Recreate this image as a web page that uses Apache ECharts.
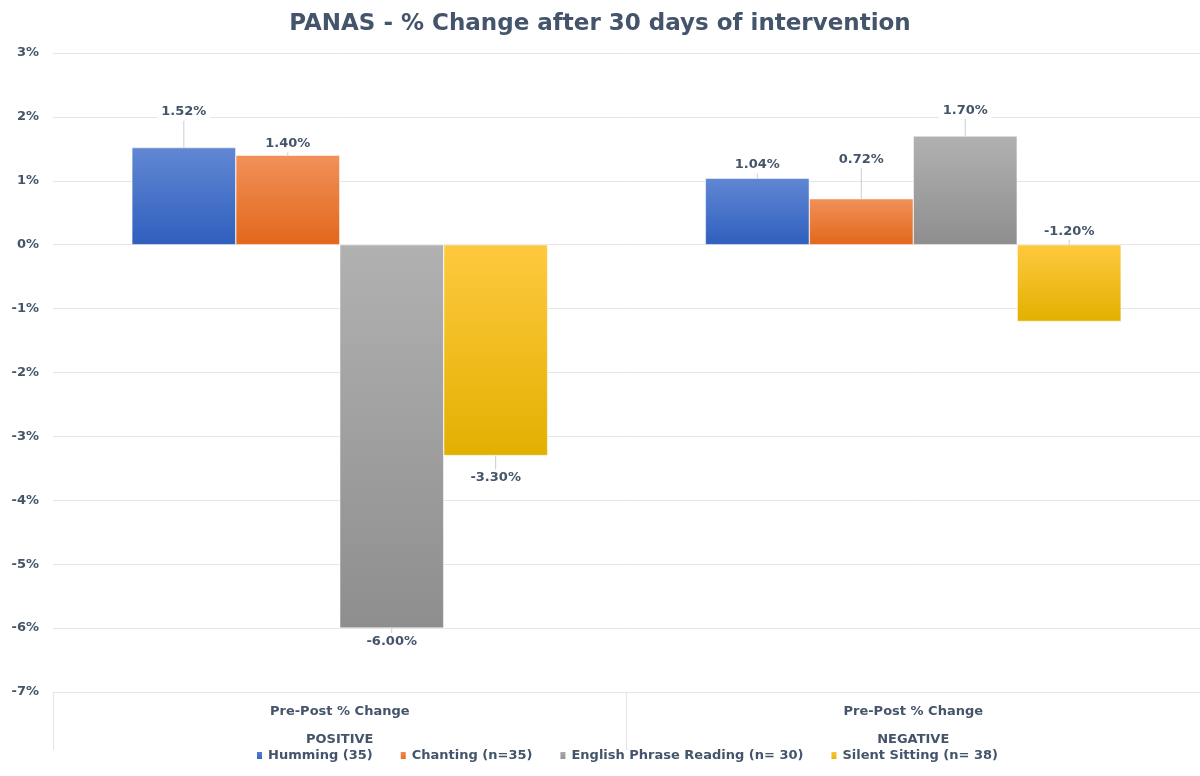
<!DOCTYPE html>
<html>
<head>
<meta charset="utf-8">
<script src="https://cdn.jsdelivr.net/npm/echarts@6/dist/echarts.min.js"></script>
<style>
  html, body { margin: 0; padding: 0; background: #fff; }
  #main { width: 1200px; height: 776px; }
</style>
</head>
<body>
<div id="main"></div>
<script>
// chart data
var groups = ['POSITIVE', 'NEGATIVE'];
var groupTop = ['Pre-Post % Change', 'Pre-Post % Change'];
var seriesNames = ['Humming (35)', 'Chanting (n=35)', 'English Phrase Reading (n= 30)', 'Silent Sitting (n= 38)'];
var humming = [1.52, 1.04];
var chanting = [1.40, 0.72];
var english = [-6.00, 1.70];
var silent = [-3.30, -1.20];
var yTicks = [-7, -6, -5, -4, -3, -2, -1, 0, 1, 2, 3];

var txt = '#44546a';
var font = 'DejaVu Sans';
var fills = [
  ['#6187d3', '#2f5fbd'],
  ['#f19159', '#e2671b'],
  ['#b1b1b1', '#8e8e8e'],
  ['#ffc93f', '#e2b000']
];
// label nudges (px), per series / group
var labelDy = [[-22, 0], [2, -26], [0, -12], [9, 0]];

var myChart = echarts.init(document.getElementById('main'));
var values = [humming, chanting, english, silent];

myChart.setOption({
  animation: false,
  title: {
    text: 'PANAS - % Change after 30 days of intervention',
    left: 'center',
    top: 8,
    textStyle: { color: txt, fontSize: 23, fontWeight: 'bold', fontFamily: font }
  },
  legend: {
    bottom: 9,
    left: 250,
    itemWidth: 7,
    itemHeight: 9,
    itemGap: 26,
    icon: 'rect',
    textStyle: { color: txt, fontSize: 13, fontWeight: 'bold', fontFamily: font },
    data: seriesNames
  },
  grid: { left: 53, right: 0, top: 53, bottom: 84 },
  xAxis: {
    type: 'category',
    data: groups,
    axisLine: { onZero: false, lineStyle: { color: '#e3e5ea' } },
    axisTick: { show: true, length: 58, lineStyle: { color: '#e3e5ea' } },
    axisLabel: {
      margin: 13,
      color: txt,
      fontWeight: 'bold',
      fontSize: 13,
      fontFamily: font,
      formatter: function (v, i) { return groupTop[i] + '\n\n' + v; },
      lineHeight: 14
    }
  },
  yAxis: {
    type: 'value',
    min: yTicks[0],
    max: yTicks[yTicks.length - 1],
    interval: 1,
    axisLine: { show: false },
    axisTick: { show: false },
    splitLine: { lineStyle: { color: '#e3e5ea' } },
    axisLabel: {
      color: txt, fontWeight: 'bold', fontSize: 13, fontFamily: font, margin: 14,
      formatter: '{value}%'
    }
  },
  series: values.map(function (vals, s) {
    return {
      name: seriesNames[s],
      type: 'bar',
      barGap: '0%',
      barCategoryGap: '27.5%',
      itemStyle: {
        color: new echarts.graphic.LinearGradient(0, 0, 0, 1, [
          { offset: 0, color: fills[s][0] },
          { offset: 1, color: fills[s][1] }
        ]),
        borderColor: '#ffffff',
        borderWidth: 0.5
      },
      data: vals.map(function (v, i) {
        var pos = 'top';
        if (v < 0 && !(s === 3 && i === 1)) pos = 'bottom';
        return { value: v, label: { position: pos } };
      }),
      label: {
        show: true,
        distance: 5,
        color: txt,
        fontWeight: 'bold',
        fontSize: 13,
        fontFamily: font,
        backgroundColor: '#ffffff',
        padding: [2, 4],
        formatter: function (p) { return p.value.toFixed(2) + '%'; }
      },
      labelLine: { show: true, lineStyle: { color: '#c9cdd6', width: 1 } },
      labelLayout: function (p) {
        return { dy: labelDy[s][p.dataIndex] };
      }
    };
  })
});
</script>
</body>
</html>
